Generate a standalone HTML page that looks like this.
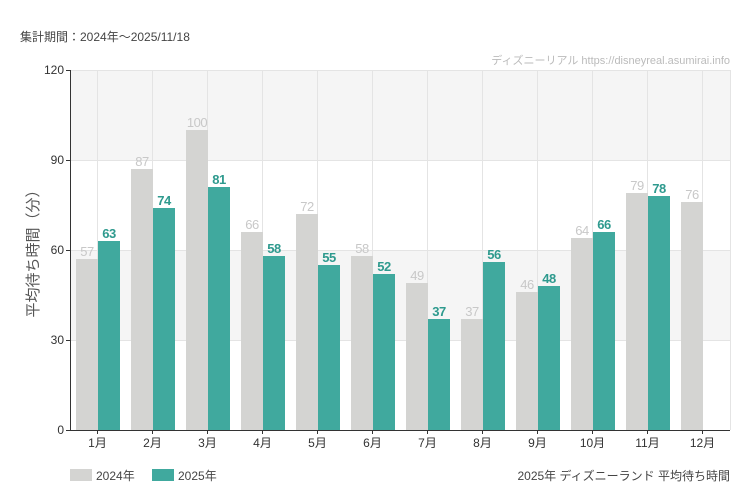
<!DOCTYPE html>
<html><head><meta charset="utf-8"><style>
body{margin:0;background:#fff;}
svg{display:block;font-family:"Liberation Sans","Noto Sans CJK JP",sans-serif;}
.a{font-size:13px;fill:#c8c8c8;text-anchor:middle;letter-spacing:-0.5px;}
.b{font-size:13px;fill:#2e9a8e;font-weight:bold;text-anchor:middle;letter-spacing:-0.5px;}
.m{font-size:12px;fill:#333;text-anchor:middle;}
</style></head><body>
<svg width="750" height="500" xmlns="http://www.w3.org/2000/svg">
<rect width="750" height="500" fill="#fff"/>
<text x="20" y="41" font-size="12" fill="#444">集計期間：2024年～2025/11/18</text>
<text x="730" y="64" font-size="11" fill="#bbb" text-anchor="end">ディズニーリアル https://disneyreal.asumirai.info</text>
<rect x="70" y="70" width="660" height="90" fill="#f5f5f5"/>
<rect x="70" y="250" width="660" height="90" fill="#f5f5f5"/>
<g stroke="#e4e4e4" stroke-width="1">
<line x1="70" y1="70.5" x2="730" y2="70.5"/><line x1="70" y1="160.5" x2="730" y2="160.5"/><line x1="70" y1="250.5" x2="730" y2="250.5"/><line x1="70" y1="340.5" x2="730" y2="340.5"/>
<line x1="97.5" y1="70" x2="97.5" y2="430"/><line x1="152.5" y1="70" x2="152.5" y2="430"/><line x1="207.5" y1="70" x2="207.5" y2="430"/><line x1="262.5" y1="70" x2="262.5" y2="430"/><line x1="317.5" y1="70" x2="317.5" y2="430"/><line x1="372.5" y1="70" x2="372.5" y2="430"/><line x1="427.5" y1="70" x2="427.5" y2="430"/><line x1="482.5" y1="70" x2="482.5" y2="430"/><line x1="537.5" y1="70" x2="537.5" y2="430"/><line x1="592.5" y1="70" x2="592.5" y2="430"/><line x1="647.5" y1="70" x2="647.5" y2="430"/><line x1="702.5" y1="70" x2="702.5" y2="430"/><line x1="730.5" y1="70" x2="730.5" y2="430"/>
</g>
<g fill="#d4d4d2">
<rect x="76" y="259" width="22" height="171"/>
<rect x="131" y="169" width="22" height="261"/>
<rect x="186" y="130" width="22" height="300"/>
<rect x="241" y="232" width="22" height="198"/>
<rect x="296" y="214" width="22" height="216"/>
<rect x="351" y="256" width="22" height="174"/>
<rect x="406" y="283" width="22" height="147"/>
<rect x="461" y="319" width="22" height="111"/>
<rect x="516" y="292" width="22" height="138"/>
<rect x="571" y="238" width="22" height="192"/>
<rect x="626" y="193" width="22" height="237"/>
<rect x="681" y="202" width="22" height="228"/>
</g>
<g fill="#40a99e">
<rect x="98" y="241" width="22" height="189"/>
<rect x="153" y="208" width="22" height="222"/>
<rect x="208" y="187" width="22" height="243"/>
<rect x="263" y="256" width="22" height="174"/>
<rect x="318" y="265" width="22" height="165"/>
<rect x="373" y="274" width="22" height="156"/>
<rect x="428" y="319" width="22" height="111"/>
<rect x="483" y="262" width="22" height="168"/>
<rect x="538" y="286" width="22" height="144"/>
<rect x="593" y="232" width="22" height="198"/>
<rect x="648" y="196" width="22" height="234"/>
</g>
<text class="a" x="87" y="256">57</text>
<text class="a" x="142" y="166">87</text>
<text class="a" x="197" y="127">100</text>
<text class="a" x="252" y="229">66</text>
<text class="a" x="307" y="211">72</text>
<text class="a" x="362" y="253">58</text>
<text class="a" x="417" y="280">49</text>
<text class="a" x="472" y="316">37</text>
<text class="a" x="527" y="289">46</text>
<text class="a" x="582" y="235">64</text>
<text class="a" x="637" y="190">79</text>
<text class="a" x="692" y="199">76</text>
<text class="b" x="109" y="238">63</text>
<text class="b" x="164" y="205">74</text>
<text class="b" x="219" y="184">81</text>
<text class="b" x="274" y="253">58</text>
<text class="b" x="329" y="262">55</text>
<text class="b" x="384" y="271">52</text>
<text class="b" x="439" y="316">37</text>
<text class="b" x="494" y="259">56</text>
<text class="b" x="549" y="283">48</text>
<text class="b" x="604" y="229">66</text>
<text class="b" x="659" y="193">78</text>
<line x1="70.5" y1="70" x2="70.5" y2="430" stroke="#333"/>
<line x1="70" y1="430.5" x2="730" y2="430.5" stroke="#333"/>
<g font-size="12" fill="#333" text-anchor="end">
<text x="64" y="74">120</text><text x="64" y="164">90</text><text x="64" y="254">60</text><text x="64" y="344">30</text><text x="64" y="434">0</text>
</g>
<g stroke="#333"><line x1="66" y1="70.5" x2="70" y2="70.5"/><line x1="66" y1="160.5" x2="70" y2="160.5"/><line x1="66" y1="250.5" x2="70" y2="250.5"/><line x1="66" y1="340.5" x2="70" y2="340.5"/><line x1="66" y1="430.5" x2="70" y2="430.5"/>
<line x1="97.5" y1="430" x2="97.5" y2="434"/><line x1="152.5" y1="430" x2="152.5" y2="434"/><line x1="207.5" y1="430" x2="207.5" y2="434"/><line x1="262.5" y1="430" x2="262.5" y2="434"/><line x1="317.5" y1="430" x2="317.5" y2="434"/><line x1="372.5" y1="430" x2="372.5" y2="434"/><line x1="427.5" y1="430" x2="427.5" y2="434"/><line x1="482.5" y1="430" x2="482.5" y2="434"/><line x1="537.5" y1="430" x2="537.5" y2="434"/><line x1="592.5" y1="430" x2="592.5" y2="434"/><line x1="647.5" y1="430" x2="647.5" y2="434"/><line x1="702.5" y1="430" x2="702.5" y2="434"/></g>
<text class="m" x="97.5" y="447">1月</text>
<text class="m" x="152.5" y="447">2月</text>
<text class="m" x="207.5" y="447">3月</text>
<text class="m" x="262.5" y="447">4月</text>
<text class="m" x="317.5" y="447">5月</text>
<text class="m" x="372.5" y="447">6月</text>
<text class="m" x="427.5" y="447">7月</text>
<text class="m" x="482.5" y="447">8月</text>
<text class="m" x="537.5" y="447">9月</text>
<text class="m" x="592.5" y="447">10月</text>
<text class="m" x="647.5" y="447">11月</text>
<text class="m" x="702.5" y="447">12月</text>
<text transform="translate(38,250) rotate(-90)" font-size="15" fill="#555" text-anchor="middle">平均待ち時間（分）</text>
<rect x="70" y="469" width="22" height="12" fill="#d4d4d2"/>
<text x="96" y="480" font-size="12" fill="#444">2024年</text>
<rect x="152" y="469" width="22" height="12" fill="#40a99e"/>
<text x="178" y="480" font-size="12" fill="#444">2025年</text>
<text x="730" y="480" font-size="12" fill="#444" text-anchor="end">2025年 ディズニーランド 平均待ち時間</text>
</svg>
</body></html>
